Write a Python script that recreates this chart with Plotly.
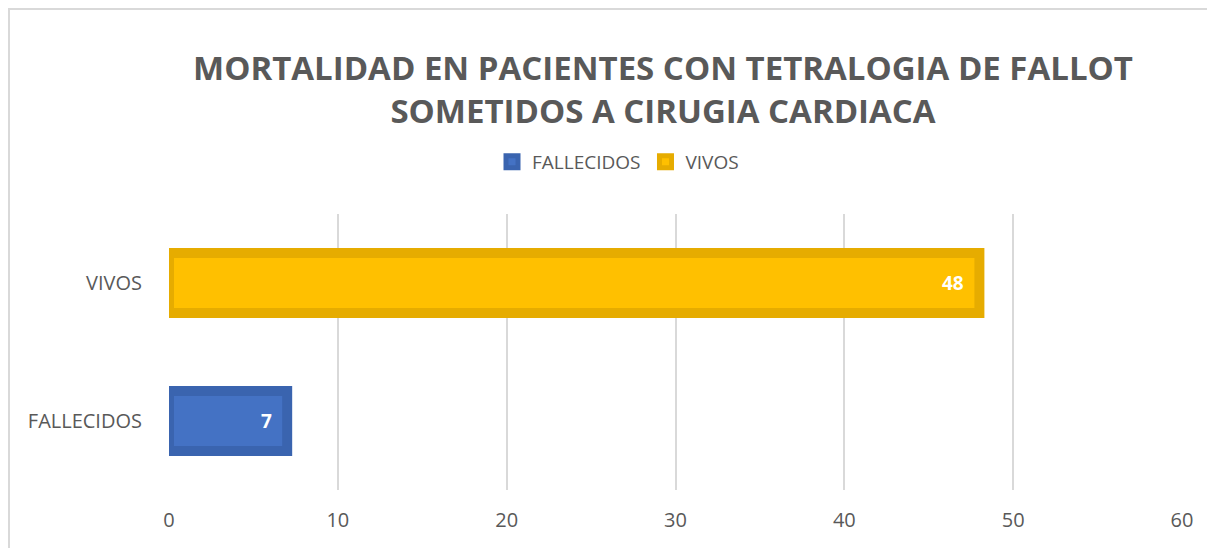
import plotly.graph_objects as go

categories = ["FALLECIDOS", "VIVOS"]
values = [7, 48]
fill_colors = ["#4472C4", "#FFC000"]
line_colors = ["#3A64AF", "#E6AC00"]
x_ticks = [0, 10, 20, 30, 40, 50, 60]

FONT = "Open Sans"
GRAY = "#595959"

W, H = 1207, 540
L, R, T, B = 161, 33, 206, 58
PW, PH = W - L - R, H - T - B

fig = go.Figure()
for cat, val, fc, lc in zip(categories, values, fill_colors, line_colors):
    fig.add_trace(go.Bar(
        y=[cat], x=[val], orientation="h", name=cat,
        marker=dict(color=fc, line=dict(color=lc, width=10)),
        width=0.435,
        cliponaxis=False,
    ))
    fig.add_annotation(
        x=val, y=cat, xref="x", yref="y", text=f"<b>{val}</b>",
        showarrow=False, xanchor="right", yanchor="middle", xshift=-13, yshift=0,
        font=dict(family=FONT, size=19, color="white"),
    )

fig.update_layout(
    width=W, height=H,
    margin=dict(l=L, r=R, t=T, b=B, autoexpand=False),
    paper_bgcolor="white", plot_bgcolor="white",
    barmode="overlay",
    title=dict(
        text="MORTALIDAD EN PACIENTES CON TETRALOGIA DE FALLOT<br>SOMETIDOS A CIRUGIA CARDIACA",
        x=655 / W, xanchor="center", y=1 - 72 / H, yanchor="middle",
        font=dict(family=FONT, size=33, color=GRAY, weight="bold"),
    ),
    legend=dict(
        orientation="h", x=(618 - 169) / PW, xanchor="center",
        y=1 + (206 - 154) / PH, yanchor="middle",
        font=dict(family=FONT, size=19, color=GRAY),
        traceorder="normal", itemwidth=30,
    ),
    xaxis=dict(
        range=[0, 60], tickvals=x_ticks, showgrid=True, gridcolor="#D9D9D9",
        gridwidth=1.5, zeroline=False, showline=False, ticks="",
        tickfont=dict(family=FONT, size=20, color=GRAY), ticklabelstandoff=16,
        automargin=False,
    ),
    yaxis=dict(
        categoryorder="array", categoryarray=categories, range=[-0.5, 1.5],
        showgrid=False, zeroline=False, showline=False, ticks="",
        tickfont=dict(family=FONT, size=20, color=GRAY), ticklabelstandoff=26,
        automargin=False,
    ),
    shapes=[dict(
        type="rect", xref="paper", yref="paper",
        x0=(1 - L) / PW, x1=(W + 20 - L) / PW,
        y0=-0.4, y1=1 + (T - 1) / PH,
        line=dict(color="#D9D9D9", width=2), fillcolor="rgba(0,0,0,0)", layer="below",
    )],
)

fig.write_html("out.html")
